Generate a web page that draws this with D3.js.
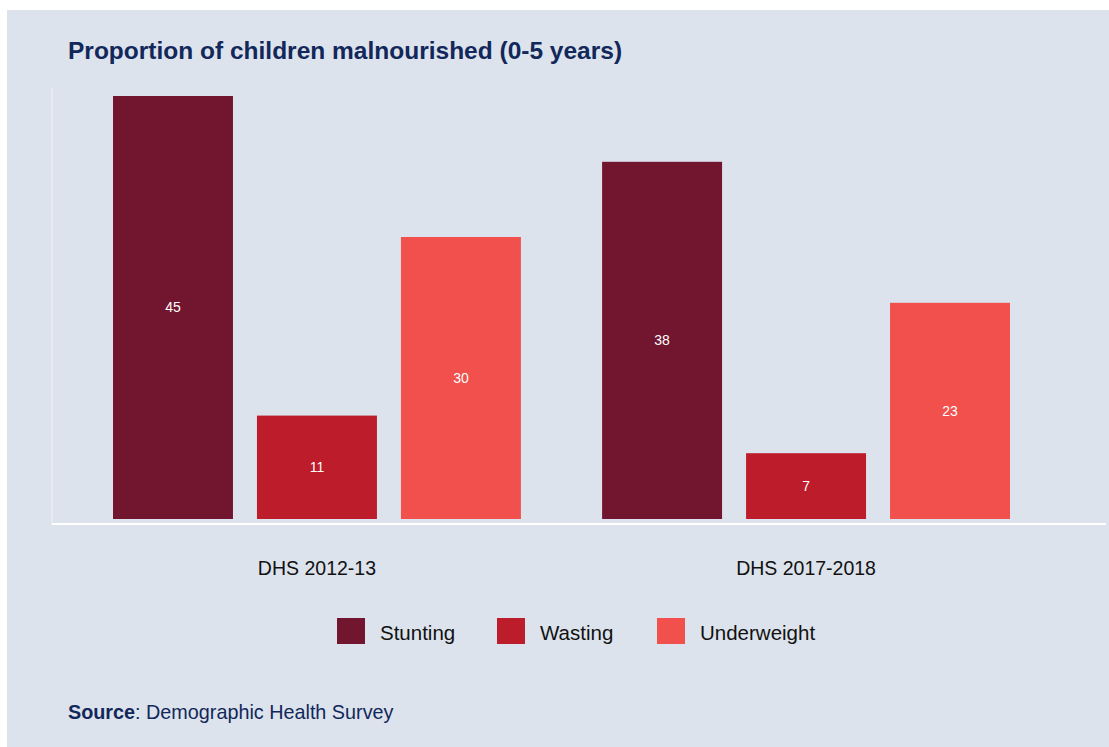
<!DOCTYPE html>
<html>
<head>
<meta charset="utf-8">
<script src="https://cdn.jsdelivr.net/npm/d3@7"></script>
<style>
  html, body { margin: 0; padding: 0; background: #ffffff; }
  svg { display: block; font-family: "Liberation Sans", Arial, sans-serif; }
</style>
</head>
<body>
<svg id="chart" width="1109" height="747"></svg>
<script>
// Survey rounds and indicators
const surveys = ["DHS 2012-13", "DHS 2017-2018"];
const indicators = ["Stunting", "Wasting", "Underweight"];
// Percent of children under five, one array per indicator (same order as surveys)
const stunting = [45, 38];
const wasting = [11, 7];
const underweight = [30, 23];
const colors = ["#721630", "#bd1c2b", "#f1504c"];

const seriesValues = [stunting, wasting, underweight];
const rows = surveys.map((s, i) => ({
  survey: s,
  values: indicators.map((k, j) => ({ key: k, value: seriesValues[j][i] }))
}));

const svg = d3.select("#chart");

// Panel background
svg.append("rect")
  .attr("x", 7).attr("y", 10)
  .attr("width", 1102).attr("height", 737)
  .attr("fill", "#dce3ec");

// Title
svg.append("text")
  .attr("x", 68).attr("y", 59)
  .attr("fill", "#12275a")
  .attr("font-size", 24.5)
  .attr("font-weight", "bold")
  .text("Proportion of children malnourished (0-5 years)");

// Scales
const x0 = d3.scaleBand().domain(surveys).range([113, 1010]).paddingInner(0.166).paddingOuter(0);
const x1 = d3.scaleBand().domain(indicators).range([0, x0.bandwidth()]).paddingInner(0.1667).paddingOuter(0);
const y = d3.scaleLinear().domain([0, 45]).range([519, 96]);
const color = d3.scaleOrdinal().domain(indicators).range(colors);

// Axis lines
svg.append("line")
  .attr("x1", 52).attr("x2", 52).attr("y1", 88).attr("y2", 524)
  .attr("stroke", "#eef2f7").attr("stroke-width", 1);
svg.append("line")
  .attr("x1", 52).attr("x2", 1106).attr("y1", 524).attr("y2", 524)
  .attr("stroke", "#ffffff").attr("stroke-width", 2);

// Bars
const groups = svg.append("g").selectAll("g")
  .data(rows).join("g")
  .attr("transform", d => `translate(${x0(d.survey)},0)`);

groups.selectAll("rect")
  .data(d => d.values).join("rect")
  .attr("x", d => x1(d.key))
  .attr("y", d => y(d.value))
  .attr("width", x1.bandwidth())
  .attr("height", d => y(0) - y(d.value))
  .attr("fill", d => color(d.key));

groups.selectAll("text")
  .data(d => d.values).join("text")
  .attr("x", d => x1(d.key) + x1.bandwidth() / 2)
  .attr("y", d => (y(d.value) + y(0)) / 2)
  .attr("dy", "0.35em")
  .attr("text-anchor", "middle")
  .attr("fill", "#ffffff")
  .attr("font-size", 14)
  .text(d => d.value);

// Category axis labels
const xAxis = d3.axisBottom(x0).tickSize(0).tickPadding(0);
const gx = svg.append("g").attr("transform", "translate(0,524)").call(xAxis);
gx.select(".domain").remove();
gx.selectAll("text")
  .attr("y", 51)
  .attr("dy", 0)
  .attr("fill", "#111111")
  .attr("font-size", 19.5)
  .attr("font-family", "Liberation Sans, Arial, sans-serif");

// Legend
const legendX = [337, 497, 657];
const legend = svg.append("g").selectAll("g")
  .data(indicators).join("g")
  .attr("transform", (d, i) => `translate(${legendX[i]},618)`);
legend.append("rect")
  .attr("width", 28).attr("height", 26)
  .attr("fill", d => color(d));
legend.append("text")
  .attr("x", 43).attr("y", 22)
  .attr("fill", "#111111")
  .attr("font-size", 20.5)
  .text(d => d);

// Source note
const src = svg.append("text")
  .attr("x", 68).attr("y", 719)
  .attr("fill", "#12275a")
  .attr("font-size", 19.8);
src.append("tspan").attr("font-weight", "bold").text("Source");
src.append("tspan").text(": Demographic Health Survey");
</script>
</body>
</html>
